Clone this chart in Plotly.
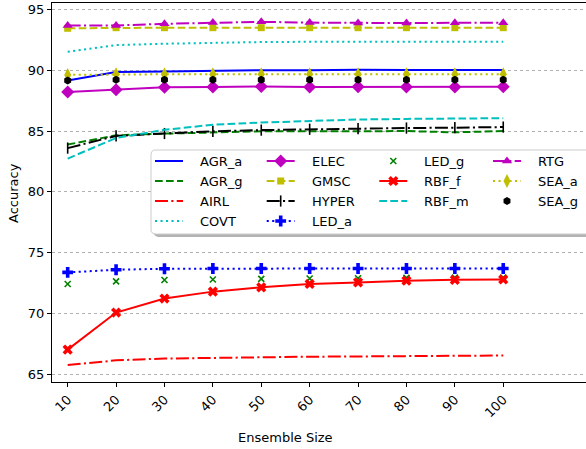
import math
import plotly.graph_objects as go

sizes = [10, 20, 30, 40, 50, 60, 70, 80, 90, 100]

AGR_a = [89.15, 89.86, 89.89, 89.95, 90.0, 90.0, 90.05, 90.02, 90.05, 90.02]
AGR_g = [83.89, 84.65, 84.79, 84.9, 84.98, 84.98, 85.0, 85.0, 84.9, 85.0]
AIRL = [65.76, 66.15, 66.3, 66.36, 66.42, 66.45, 66.47, 66.5, 66.52, 66.55]
COVT = [91.52, 92.07, 92.18, 92.26, 92.32, 92.34, 92.34, 92.35, 92.35, 92.35]
ELEC = [88.22, 88.39, 88.6, 88.62, 88.66, 88.62, 88.64, 88.63, 88.62, 88.64]
GMSC = [93.45, 93.5, 93.5, 93.5, 93.5, 93.5, 93.5, 93.5, 93.5, 93.5]
HYPER = [83.6, 84.6, 84.8, 84.98, 85.08, 85.15, 85.2, 85.25, 85.28, 85.33]
LED_a = [73.38, 73.6, 73.68, 73.7, 73.7, 73.7, 73.7, 73.7, 73.7, 73.7]
LED_g = [72.43, 72.64, 72.76, 72.8, 72.85, 72.88, 72.9, 72.93, 72.95, 72.95]
RBF_f = [67.03, 70.08, 71.23, 71.8, 72.15, 72.43, 72.56, 72.7, 72.77, 72.8]
RBF_m = [82.74, 84.43, 85.1, 85.52, 85.7, 85.85, 85.95, 86.0, 86.05, 86.06]
RTG = [93.68, 93.68, 93.82, 93.92, 93.98, 93.92, 93.88, 93.88, 93.9, 93.9]
SEA_a = [89.62, 89.67, 89.67, 89.67, 89.67, 89.67, 89.67, 89.67, 89.67, 89.67]
SEA_g = [89.15, 89.23, 89.23, 89.23, 89.23, 89.23, 89.23, 89.23, 89.23, 89.23]

y_ticks = [65, 70, 75, 80, 85, 90, 95]

DASH = "7.7px,3.3px"
DOT = "2.1px,3.4px"
DASHDOT = "13px,3.3px,2.1px,3.3px"
LW = 2

# name, values, color, dash (None = no line), marker symbol, marker size
series = [
    ("AGR_a", AGR_a, "#0000ff", "solid", None, 0),
    ("AGR_g", AGR_g, "#008000", DASH, None, 0),
    ("AIRL", AIRL, "#ff0000", DASHDOT, None, 0),
    ("COVT", COVT, "#00bfbf", DOT, None, 0),
    ("ELEC", ELEC, "#bf00bf", "solid", "diamond", 10),
    ("GMSC", GMSC, "#bfbf00", DASH, "square", 7),
    ("HYPER", HYPER, "#000000", DASHDOT, "line-ns", 8),
    ("LED_a", LED_a, "#0000ff", DOT, "cross", 9),
    ("LED_g", LED_g, "#008000", None, "x-thin", 6),
    ("RBF_f", RBF_f, "#ff0000", "solid", "x", 9),
    ("RBF_m", RBF_m, "#00bfbf", DASH, None, 0),
    ("RTG", RTG, "#bf00bf", DASHDOT, "triangle-up", 9),
    ("SEA_a", SEA_a, "#bfbf00", DOT, "diamond-tall", 10),
    ("SEA_g", SEA_g, "#000000", None, "hexagon", 8),
]


def style(color, dash, sym, msize):
    if dash is None:
        mode = "markers"
    elif sym is None:
        mode = "lines"
    else:
        mode = "lines+markers"
    kw = dict(mode=mode)
    if dash is not None:
        kw["line"] = dict(color=color, width=LW, dash=dash)
    if sym is not None:
        mline = dict(width=0)
        if sym in ("x-thin", "line-ns"):
            mline = dict(width=1.6, color=color)
        kw["marker"] = dict(symbol=sym, size=msize, color=color, line=mline)
    return kw


fig = go.Figure()
for name, vals, color, dash, sym, msize in series:
    fig.add_trace(go.Scatter(x=sizes, y=vals, name=name, showlegend=False,
                             **style(color, dash, sym, msize)))

# ---- manual legend (4 columns, column-major like matplotlib ncol=4) ----
L_MARGIN, T_MARGIN, B_MARGIN, W, H = 52, 3, 67, 586, 449
PLOT_W = W - L_MARGIN
PLOT_H = H - B_MARGIN - T_MARGIN
COL_X = [155, 266.7, 379.3, 493]
ROW_Y = [161, 181, 201, 221]
COL_COUNTS = [4, 4, 3, 3]
SAMPLE_W = 28
TEXT_DX = 43


def rounded_rect(x0, y0, x1, y1, r):
    pts = []
    corners = [(x1 - r, y0 + r, -90, 0), (x1 - r, y1 - r, 0, 90),
               (x0 + r, y1 - r, 90, 180), (x0 + r, y0 + r, 180, 270)]
    for cx, cy, a0, a1 in corners:
        for k in range(5):
            a = math.radians(a0 + (a1 - a0) * k / 4)
            pts.append((cx + r * math.cos(a), cy + r * math.sin(a)))
    pts.append(pts[0])
    return [p[0] for p in pts], [p[1] for p in pts]


sx, sy = rounded_rect(154, 153, 606, 237, 4)
fig.add_trace(go.Scatter(x=sx, y=sy, xaxis="x2", yaxis="y2", mode="lines",
                         fill="toself", fillcolor="#b3b3b3",
                         line=dict(width=0, color="#b3b3b3"),
                         showlegend=False, hoverinfo="skip"))
bx, by = rounded_rect(151, 150, 603, 234, 4)
fig.add_trace(go.Scatter(x=bx, y=by, xaxis="x2", yaxis="y2", mode="lines",
                         fill="toself", fillcolor="white",
                         line=dict(width=1, color="#cccccc"),
                         showlegend=False, hoverinfo="skip"))

slots = [(c, r) for c, n in enumerate(COL_COUNTS) for r in range(n)]

annotations = []
for (name, vals, color, dash, sym, msize), (c, r) in zip(series, slots):
    x0 = COL_X[c]
    y0 = ROW_Y[r]
    kw = style(color, dash, sym, msize)
    if dash is None:
        xs, ys = [x0 + SAMPLE_W / 2], [y0]
    else:
        xs, ys = [x0, x0 + SAMPLE_W], [y0, y0]
        if sym is not None:
            kw["mode"] = "lines"
            fig.add_trace(go.Scatter(x=xs, y=ys, xaxis="x2", yaxis="y2",
                                     showlegend=False, hoverinfo="skip", **kw))
            kw = style(color, None, sym, msize)
            xs, ys = [x0 + SAMPLE_W / 2], [y0]
    fig.add_trace(go.Scatter(x=xs, y=ys, xaxis="x2", yaxis="y2",
                             showlegend=False, hoverinfo="skip", **kw))
    annotations.append(dict(x=x0 + TEXT_DX, y=y0 + 0.5, xref="x2", yref="y2",
                            text=name, showarrow=False, xanchor="left",
                            yanchor="middle",
                            font=dict(size=13, family="DejaVu Sans", color="#000000")))

# axis titles
annotations.append(dict(x=(285.5 - L_MARGIN) / PLOT_W, y=1 - (437 - T_MARGIN) / PLOT_H,
                        xref="paper", yref="paper", text="Ensemble Size",
                        showarrow=False, xanchor="center", yanchor="middle",
                        font=dict(size=13, family="DejaVu Sans", color="#000000")))
annotations.append(dict(x=(13 - L_MARGIN) / PLOT_W, y=1 - (193 - T_MARGIN) / PLOT_H,
                        xref="paper", yref="paper", text="Accuracy", textangle=-90,
                        showarrow=False, xanchor="center", yanchor="middle",
                        font=dict(size=13, family="DejaVu Sans", color="#000000")))

fig.update_layout(
    width=W, height=H,
    margin=dict(l=L_MARGIN, r=0, t=T_MARGIN, b=B_MARGIN, autoexpand=False),
    paper_bgcolor="white", plot_bgcolor="white",
    font=dict(family="DejaVu Sans", size=13, color="#000000"),
    showlegend=False,
    annotations=annotations,
    xaxis=dict(
        range=[6.76, 117.1], tickvals=sizes, ticktext=[str(s) for s in sizes],
        tickangle=-45, ticks="outside", ticklen=4, tickcolor="#000000",
        showline=True, linecolor="#000000", linewidth=1, mirror=True,
        showgrid=False, zeroline=False, automargin=False,
    ),
    yaxis=dict(
        range=[64.37, 95.53], tickvals=y_ticks,
        ticks="outside", ticklen=4, tickcolor="#000000",
        showline=True, linecolor="#000000", linewidth=1, mirror=False,
        showgrid=True, gridcolor="#b0b0b0", griddash="dot", gridwidth=1,
        zeroline=False, automargin=False,
    ),
    xaxis2=dict(overlaying="x", range=[L_MARGIN, W], visible=False,
                fixedrange=True),
    yaxis2=dict(overlaying="y", range=[H - B_MARGIN, T_MARGIN], visible=False,
                fixedrange=True),
)

fig.write_html(
    "out.html",
    config={"displayModeBar": False},
    post_script="document.body.style.margin='0';document.body.style.overflow='hidden';",
)
